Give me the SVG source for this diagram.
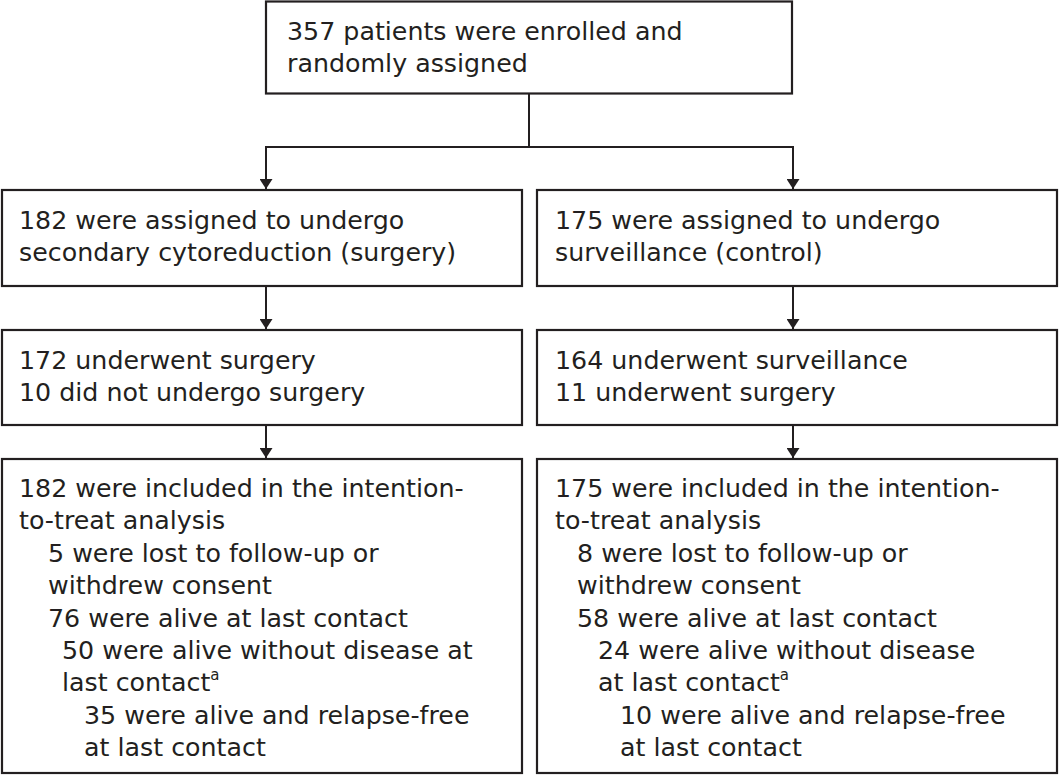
<svg xmlns="http://www.w3.org/2000/svg" width="1059" height="776" viewBox="0 0 1059 776">
<style>
.box{fill:#fff;stroke:#231f20;stroke-width:2.2}
.t{font-family:"DejaVu Sans",sans-serif;font-size:25.3px;fill:#231f20}
.sup{font-size:15px}
.c{fill:none;stroke:#231f20;stroke-width:2}
</style>
<defs>
<marker id="ah" viewBox="0 0 10 13" refX="10" refY="6.5" markerWidth="10" markerHeight="13" markerUnits="userSpaceOnUse" orient="auto">
<path d="M0,0 L10,6.5 L0,13 Z" fill="#231f20"/>
</marker>
</defs>
<rect width="1059" height="776" fill="#fff"/>
<g id="connectors">
<path class="c" d="M529,94 V147"/>
<path class="c" d="M266,147 H793"/>
<path class="c" d="M266,146 V189" marker-end="url(#ah)"/>
<path class="c" d="M793,146 V189" marker-end="url(#ah)"/>
<path class="c" d="M266,287 V329" marker-end="url(#ah)"/>
<path class="c" d="M793,287 V329" marker-end="url(#ah)"/>
<path class="c" d="M266,426 V458" marker-end="url(#ah)"/>
<path class="c" d="M793,426 V458" marker-end="url(#ah)"/>
</g>
<g id="n_enrolled">
<rect class="box" x="266" y="1.5" width="526" height="92"/>
<text class="t" x="287" y="40">357 patients were enrolled and</text>
<text class="t" x="287" y="72">randomly assigned</text>
</g>
<g id="n_surgery_assigned">
<rect class="box" x="2" y="190" width="520" height="96"/>
<text class="t" x="19" y="229">182 were assigned to undergo</text>
<text class="t" x="19" y="261">secondary cytoreduction (surgery)</text>
</g>
<g id="n_control_assigned">
<rect class="box" x="537" y="190" width="520" height="96"/>
<text class="t" x="555" y="229">175 were assigned to undergo</text>
<text class="t" x="555" y="261">surveillance (control)</text>
</g>
<g id="n_surgery_underwent">
<rect class="box" x="2" y="330" width="520" height="95"/>
<text class="t" x="19" y="369">172 underwent surgery</text>
<text class="t" x="19" y="401">10 did not undergo surgery</text>
</g>
<g id="n_control_underwent">
<rect class="box" x="537" y="330" width="520" height="95"/>
<text class="t" x="555" y="369">164 underwent surveillance</text>
<text class="t" x="555" y="401">11 underwent surgery</text>
</g>
<g id="n_surgery_itt">
<rect class="box" x="2" y="459" width="520" height="314"/>
<text class="t" x="19" y="497">182 were included in the intention-</text>
<text class="t" x="19" y="529">to-treat analysis</text>
<text class="t" x="48" y="562">5 were lost to follow-up or</text>
<text class="t" x="48" y="594">withdrew consent</text>
<text class="t" x="48" y="627">76 were alive at last contact</text>
<text class="t" x="62" y="659">50 were alive without disease at</text>
<text class="t" x="62" y="691">last contact<tspan class="sup" dy="-11">a</tspan></text>
<text class="t" x="84" y="724">35 were alive and relapse-free</text>
<text class="t" x="84" y="756">at last contact</text>
</g>
<g id="n_control_itt">
<rect class="box" x="537" y="459" width="520" height="314"/>
<text class="t" x="555" y="497">175 were included in the intention-</text>
<text class="t" x="555" y="529">to-treat analysis</text>
<text class="t" x="577" y="562">8 were lost to follow-up or</text>
<text class="t" x="577" y="594">withdrew consent</text>
<text class="t" x="577" y="627">58 were alive at last contact</text>
<text class="t" x="598" y="659">24 were alive without disease</text>
<text class="t" x="598" y="691">at last contact<tspan class="sup" dy="-11">a</tspan></text>
<text class="t" x="620" y="724">10 were alive and relapse-free</text>
<text class="t" x="620" y="756">at last contact</text>
</g>
</svg>
